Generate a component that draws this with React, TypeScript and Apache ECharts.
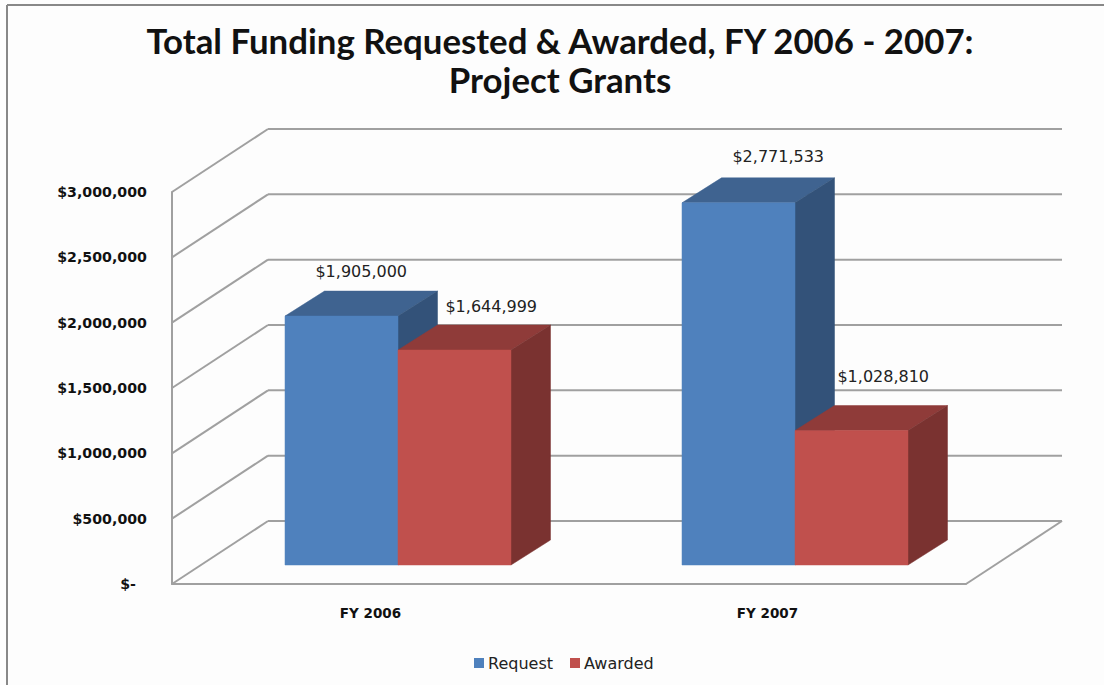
import React, { useEffect, useRef } from "react";
import * as echarts from "echarts";

const categories = ["FY 2006", "FY 2007"];
const requestValues = [1905000, 2771533];
const awardedValues = [1644999, 1028810];
const axisTicks = [0, 500000, 1000000, 1500000, 2000000, 2500000, 3000000];
const titleText = "Total Funding Requested & Awarded, FY 2006 - 2007:\nProject Grants";

const GRID = { left: 172, top: 192, width: 794, height: 392 };
const WALL_DX = 96, WALL_DY = -63;
const BAR_DX = 39.5, BAR_DY = -25, BAR_LIFT = 19, BAR_SHIFT = 27.5;
const GRID_COLOR = "#a0a0a0";
const REQUEST = { front: "#4f81bd", top: "#3f6390", side: "#335279" };
const AWARDED = { front: "#c0504d", top: "#8f3b39", side: "#7a3230" };
const LABEL_OFFSETS = {
  Request: [[0, -20], [20, -21]],
  Awarded: [[17, -19], [12, -29]],
};
const DATA_FONT = "'DejaVu Sans'";
const AXIS_FONT = "'DejaVu Sans'";

const fmt = (v: number) => "$" + v.toLocaleString("en-US");

function bar3d(name: "Request" | "Awarded", colors: typeof REQUEST, sign: number) {
  return (params: any, api: any) => {
    const cat = api.value(0);
    const val = api.value(1);
    const cw = api.size([1, 0])[0];
    const bw = cw * 0.2846;
    const c = api.coord([cat, val]);
    const b = api.coord([cat, 0]);
    const center = c[0] + BAR_SHIFT;
    const x0 = sign < 0 ? center - bw : center;
    const x1 = x0 + bw;
    const yT = c[1] - BAR_LIFT;
    const yB = b[1] - BAR_LIFT;
    const off = LABEL_OFFSETS[name][params.dataIndex];
    const poly = (points: number[][], fill: string) => ({
      type: "polygon",
      shape: { points },
      style: { fill, stroke: fill, lineWidth: 0.5 },
    });
    return {
      type: "group",
      children: [
        poly([[x0, yT], [x1, yT], [x1 + BAR_DX, yT + BAR_DY], [x0 + BAR_DX, yT + BAR_DY]], colors.top),
        poly([[x1, yT], [x1 + BAR_DX, yT + BAR_DY], [x1 + BAR_DX, yB + BAR_DY], [x1, yB]], colors.side),
        poly([[x0, yT], [x1, yT], [x1, yB], [x0, yB]], colors.front),
        {
          type: "text",
          style: {
            text: fmt(val),
            x: (x0 + x1) / 2 + BAR_DX / 2 + off[0],
            y: yT + BAR_DY + off[1],
            align: "center",
            verticalAlign: "middle",
            fill: "#222",
            font: `16px ${DATA_FONT}`,
          },
        },
      ],
    };
  };
}

function walls(params: any, api: any) {
  const val = api.value(0);
  const y = api.coord([0, val])[1];
  const { x, width } = params.coordSys;
  const line = (x1: number, y1: number, x2: number, y2: number) => ({
    type: "line",
    shape: { x1, y1, x2, y2 },
    style: { stroke: GRID_COLOR, lineWidth: 2 },
  });
  const children = [
    line(x, y, x + WALL_DX, y + WALL_DY),
    line(x + WALL_DX, y + WALL_DY, x + width + WALL_DX, y + WALL_DY),
  ];
  if (val === 0) children.push(line(x + width, y, x + width + WALL_DX, y + WALL_DY));
  return { type: "group", children };
}

export default function App() {
  const ref = useRef<HTMLDivElement>(null);
  useEffect(() => {
    const chart = echarts.init(ref.current!, null, { renderer: "svg" });
    chart.setOption({
      animation: false,
      backgroundColor: "#fdfdfd",
      title: {
        text: titleText,
        left: 555,
        top: 16,
        textAlign: "center",
        textStyle: { fontFamily: "Lato", fontWeight: 700, fontSize: 34.8, lineHeight: 39, color: "#111" },
      },
      legend: {
        data: ["Request", "Awarded"],
        left: 469,
        top: 650,
        itemWidth: 10,
        itemHeight: 10,
        itemGap: 17,
        icon: "rect",
        textStyle: { fontFamily: DATA_FONT, fontSize: 16, color: "#222", padding: [0, 0, 0, -1] },
      },
      grid: { ...GRID },
      xAxis: {
        type: "category",
        data: categories,
        axisTick: { show: false },
        axisLine: { lineStyle: { color: GRID_COLOR, width: 2 } },
        axisLabel: { margin: 22, fontFamily: AXIS_FONT, fontWeight: 700, fontSize: 13.5, color: "#111" },
      },
      yAxis: {
        type: "value",
        min: 0,
        max: 3000000,
        interval: 500000,
        splitLine: { show: false },
        axisTick: { show: false },
        axisLine: { show: true, lineStyle: { color: GRID_COLOR, width: 2 } },
        axisLabel: {
          margin: 25,
          fontFamily: AXIS_FONT,
          fontWeight: 700,
          fontSize: 14.2,
          color: "#111",
          formatter: (v: number) => (v === 0 ? "{z|$-}" : fmt(v)),
          rich: { z: { fontFamily: AXIS_FONT, fontWeight: 700, fontSize: 14.2, color: "#111", padding: [0, 11, 0, 0] } },
        },
      },
      graphic: [
        { type: "line", shape: { x1: 7, y1: 5, x2: 7, y2: 685 }, style: { stroke: "#888", lineWidth: 2 } },
        { type: "line", shape: { x1: 7, y1: 5, x2: 1104, y2: 5 }, style: { stroke: "#888", lineWidth: 2 } },
      ],
      series: [
        {
          name: "Gridlines",
          type: "custom",
          z: 1,
          renderItem: walls,
          data: axisTicks.map((t) => [t]),
          encode: { y: 0 },
        },
        {
          name: "Request",
          type: "custom",
          z: 2,
          itemStyle: { color: REQUEST.front },
          renderItem: bar3d("Request", REQUEST, -1),
          data: requestValues.map((v, i) => [i, v]),
          encode: { x: 0, y: 1 },
        },
        {
          name: "Awarded",
          type: "custom",
          z: 3,
          itemStyle: { color: AWARDED.front },
          renderItem: bar3d("Awarded", AWARDED, 1),
          data: awardedValues.map((v, i) => [i, v]),
          encode: { x: 0, y: 1 },
        },
      ],
    });
    return () => chart.dispose();
  }, []);
  return <div ref={ref} style={{ position: "absolute", left: 0, top: 0, width: 1104, height: 685 }} />;
}
